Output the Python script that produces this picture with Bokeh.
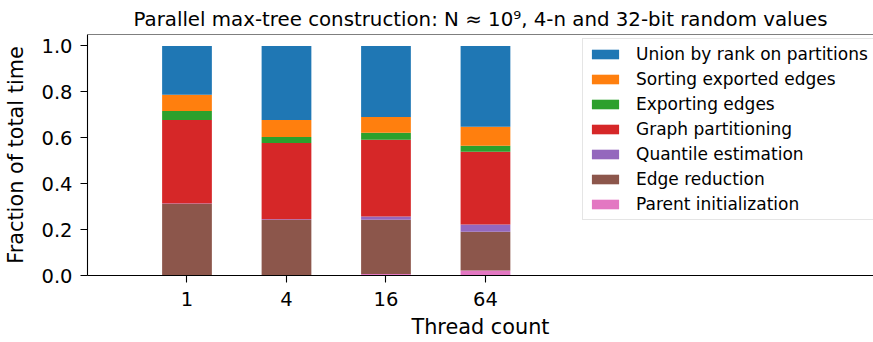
from bokeh.plotting import figure
from bokeh.models import Range1d, FixedTicker, Legend, LegendItem, Span, ColumnDataSource
from bokeh.embed import file_html
from bokeh.resources import INLINE

threads = ["1", "4", "16", "64"]
parent_init = [0.000, 0.001, 0.007, 0.022]
edge_reduction = [0.312, 0.241, 0.236, 0.169]
quantile_estimation = [0.002, 0.003, 0.014, 0.031]
graph_partitioning = [0.364, 0.332, 0.334, 0.317]
exporting_edges = [0.039, 0.026, 0.031, 0.026]
sorting_edges = [0.071, 0.075, 0.069, 0.083]
union_by_rank = [0.212, 0.322, 0.309, 0.352]

series_names = ["Parent initialization", "Edge reduction", "Quantile estimation",
                "Graph partitioning", "Exporting edges", "Sorting exported edges",
                "Union by rank on partitions"]
series_values = [parent_init, edge_reduction, quantile_estimation, graph_partitioning,
                 exporting_edges, sorting_edges, union_by_rank]
colors = ["#e377c2", "#8c564b", "#9467bd", "#d62728", "#2ca02c", "#ff7f0e", "#1f77b4"]
y_ticks = [0.0, 0.2, 0.4, 0.6, 0.8, 1.0]
title_text = "Parallel max-tree construction: N \u2248 10\u2079, 4-n and 32-bit random values"

FONT = "DejaVu Sans"
xs = list(range(len(threads)))
data = {"x": xs}
keys = []
for i, vals in enumerate(series_values):
    k = "s%d" % i
    keys.append(k)
    data[k] = vals
source = ColumnDataSource(data)

p = figure(width=873, height=342, output_backend="svg", toolbar_location=None,
           x_range=Range1d(-1, 6.9), y_range=Range1d(0, 1.05),
           min_border_left=87, min_border_right=0, min_border_top=34, min_border_bottom=67)

renderers = p.vbar_stack(keys, x="x", width=0.5, color=colors, line_color=None, source=source)

p.title.text = title_text
p.title.align = "center"
p.title.vertical_align = "top"
p.title.text_font = FONT
p.title.text_font_size = "19.8px"
p.title.text_font_style = "normal"
p.title.text_color = "black"
p.title.standoff = 4
p.title.offset = 4

p.grid.visible = False
p.outline_line_color = None
p.add_layout(Span(location=1.05, dimension="width", line_color="black", line_width=1.1))

for ax in (p.xaxis, p.yaxis):
    ax.axis_line_color = "black"
    ax.axis_line_width = 1.1
    ax.major_tick_line_color = "black"
    ax.major_tick_line_width = 1.1
    ax.major_tick_out = 7
    ax.major_tick_in = 0
    ax.minor_tick_line_color = None
    ax.major_label_text_font = FONT
    ax.major_label_text_font_size = "19.5px"
    ax.major_label_text_color = "black"
    ax.axis_label_text_font = FONT
    ax.axis_label_text_font_size = "20.8px"
    ax.axis_label_text_font_style = "normal"
    ax.axis_label_text_color = "black"

p.xaxis.ticker = FixedTicker(ticks=xs)
p.xaxis.major_label_overrides = {x: t for x, t in zip(xs, threads)}
p.xaxis.axis_label = "Thread count"
p.xaxis.major_label_standoff = 9
p.xaxis.axis_label_standoff = 6

p.yaxis.ticker = FixedTicker(ticks=y_ticks)
p.yaxis.major_label_overrides = {t: "%.1f" % t for t in y_ticks}
p.yaxis.axis_label = "Fraction of total time"
p.yaxis.major_label_standoff = 8
p.yaxis.axis_label_standoff = 10

items = [LegendItem(label=n, renderers=[r]) for n, r in zip(series_names, renderers)][::-1]
legend = Legend(items=items, location=(495, 55))
legend.label_text_font = FONT
legend.label_text_font_size = "17px"
legend.label_text_color = "black"
legend.glyph_width = 34
legend.glyph_height = 12
legend.label_standoff = 14
legend.label_height = 17
legend.spacing = 5
legend.padding = 5
legend.margin = 0
legend.border_line_color = "#cccccc"
legend.border_line_width = 1.1
legend.background_fill_alpha = 0.8
p.add_layout(legend)

open("out.html", "w").write(file_html(p, INLINE))
